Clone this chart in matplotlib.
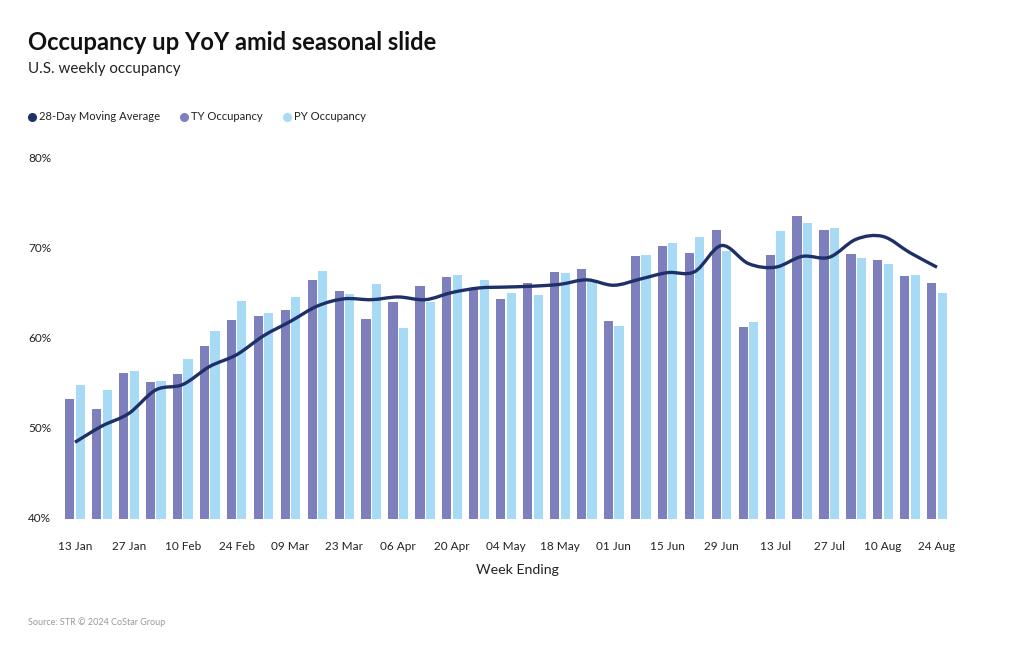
import numpy as np
import matplotlib.pyplot as plt
from matplotlib.path import Path
from matplotlib.patches import PathPatch
from matplotlib.lines import Line2D
import matplotlib.transforms as mtransforms

plt.rcParams['font.family'] = ['Lato', 'DejaVu Sans']

# weeks ending, 13 Jan .. 24 Aug 2024
weeks = ['13 Jan', '20 Jan', '27 Jan', '03 Feb', '10 Feb', '17 Feb', '24 Feb', '02 Mar',
         '09 Mar', '16 Mar', '23 Mar', '30 Mar', '06 Apr', '13 Apr', '20 Apr', '27 Apr',
         '04 May', '11 May', '18 May', '25 May', '01 Jun', '08 Jun', '15 Jun', '22 Jun',
         '29 Jun', '06 Jul', '13 Jul', '20 Jul', '27 Jul', '03 Aug', '10 Aug', '17 Aug',
         '24 Aug']
ty_occ = [53.3, 52.2, 56.2, 55.2, 56.1, 59.2, 62.0, 62.5, 63.2, 66.5, 65.3, 62.2,
          64.0, 65.8, 66.8, 65.6, 64.4, 66.1, 67.4, 67.7, 61.9, 69.1, 70.2, 69.5,
          72.0, 61.3, 69.3, 73.6, 72.0, 69.4, 68.7, 66.9, 66.1]
py_occ = [54.8, 54.3, 56.4, 55.3, 57.7, 60.8, 64.1, 62.8, 64.6, 67.5, 64.9, 66.0,
          61.2, 64.0, 67.0, 66.5, 65.0, 64.8, 67.3, 66.4, 61.4, 69.2, 70.6, 71.3,
          69.7, 61.8, 71.9, 72.8, 72.2, 68.9, 68.3, 67.0, 65.0]
moving_avg = [48.5, 50.3, 51.7, 54.3, 54.9, 56.9, 58.2, 60.3, 61.9, 63.6, 64.4, 64.3,
              64.6, 64.3, 65.1, 65.6, 65.7, 65.8, 66.0, 66.5, 65.9, 66.6, 67.3, 67.4,
              70.3, 68.3, 67.9, 69.1, 69.0, 71.0, 71.3, 69.5, 67.9]
series_names = ['28-Day Moving Average', 'TY Occupancy', 'PY Occupancy']

c_ty = '#7e7fbd'
c_py = '#a7dbf5'
c_ma = '#1f2f68'

fig = plt.figure(figsize=(10.2, 6.5), dpi=100)
ax = fig.add_axes([55/1020, 131/650, 902/1020, 361/650])

x = np.arange(len(weeks))
w = 0.34
ax.bar(x - 0.195, ty_occ, width=w, color=c_ty)
ax.bar(x + 0.195, py_occ, width=w, color=c_py)

# smooth moving-average line (Catmull-Rom as cubic Bezier)
pts = np.column_stack([x, moving_avg]).astype(float)
ext = np.vstack([pts[0], pts, pts[-1]])
verts = [tuple(pts[0])]
codes = [Path.MOVETO]
for i in range(len(pts) - 1):
    p0, p1, p2, p3 = ext[i], ext[i + 1], ext[i + 2], ext[i + 3]
    c1 = p1 + (p2 - p0) / 6
    c2 = p2 - (p3 - p1) / 6
    verts += [tuple(c1), tuple(c2), tuple(p2)]
    codes += [Path.CURVE4] * 3
ax.add_patch(PathPatch(Path(verts, codes), facecolor='none', edgecolor=c_ma,
                       lw=2.4, capstyle='butt', zorder=3))

ax.set_ylim(40, 80)
ax.set_xlim(-0.742, 32.742)
for s in ax.spines.values():
    s.set_visible(False)
ax.tick_params(length=0)
ax.set_xticks(x[::2])
ax.set_xticklabels(weeks[::2], fontsize=8.5, color='#222222')
ax.tick_params(axis='x', pad=16)
ax.set_yticks([])
trans = mtransforms.blended_transform_factory(fig.transFigure, ax.transData)
for v in [40, 50, 60, 70, 80]:
    ax.text(28/1020, v, f'{v}%', transform=trans, ha='left', va='center',
            fontsize=8.5, color='#222222')
ax.set_xlabel('Week Ending', fontsize=10.2, color='#222222')
ax.xaxis.set_label_coords((517 - 55) / 902, -(570 - 519) / 361)
ax.xaxis.label.set_va('center')

fig.text(28/1020, 1 - 43/650, 'Occupancy up YoY amid seasonal slide',
         fontsize=17.1, fontweight='bold', va='center', color='#111111')
fig.text(28/1020, 1 - 69/650, 'U.S. weekly occupancy', fontsize=10.9,
         va='center', color='#222222')
fig.text(28/1020, 1 - 622/650, 'Source: STR \u00a9 2024 CoStar Group', fontsize=6.5,
         va='center', color='#999999')

# legend, placed by hand
ly = 1 - 117/650
for name, c, mx in zip(series_names, (c_ma, c_ty, c_py), (32, 184, 287)):
    fig.add_artist(Line2D([mx/1020], [ly], transform=fig.transFigure, marker='o',
                          ls='', color=c, markersize=5.5))
    fig.text((mx + 7)/1020, ly, name, fontsize=8.1, va='center', color='#222222')

fig.savefig('out.png', dpi=100)
